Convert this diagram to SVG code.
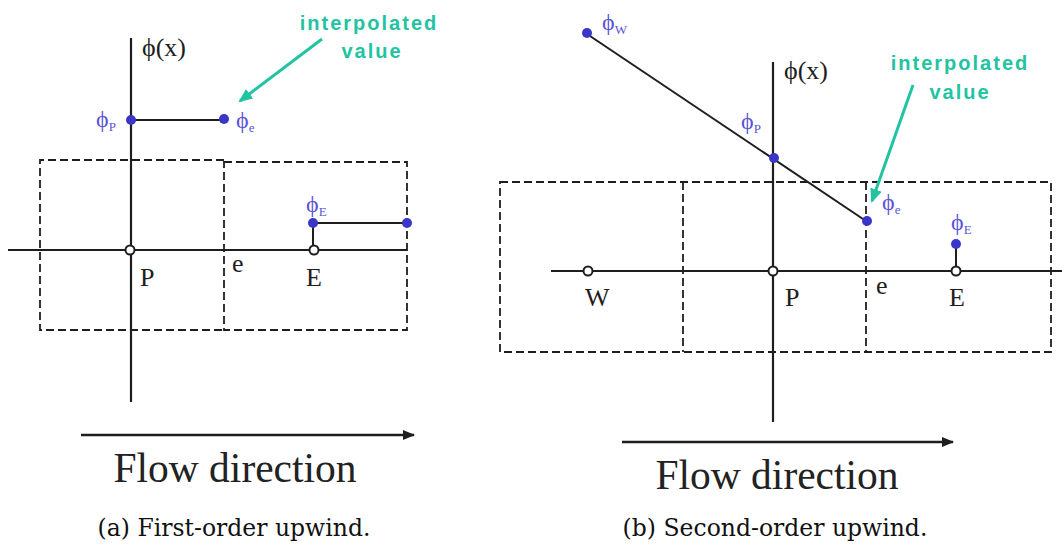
<svg xmlns="http://www.w3.org/2000/svg" width="1062" height="556" viewBox="0 0 1062 556">
<style>
.ax{stroke:#1e1e1e;stroke-width:2.2;fill:none}
.dash{stroke:#1e1e1e;stroke-width:1.8;fill:none;stroke-dasharray:8 4}
.ln{stroke:#1e1e1e;stroke-width:2;fill:none}
.teal{stroke:#22c3a3;stroke-width:3;fill:none}
.flow{stroke:#1e1e1e;stroke-width:2.6;fill:none}
.dot{fill:#3a36c8}
.node{fill:#ffffff;stroke:#1e1e1e;stroke-width:2}
.lbl{font-family:"Liberation Serif",serif;font-size:26px;fill:#1e1e1e}
.phi{font-family:"Liberation Serif",serif;font-size:24px;fill:#5a55d6}
.sub{font-size:13px}
.ip{font-family:"Liberation Sans",Arial,sans-serif;font-weight:bold;font-size:20px;fill:#22c3a3;letter-spacing:2px;text-anchor:middle}
.fd{font-family:"Liberation Serif",serif;font-size:41.5px;fill:#222;text-anchor:middle}
.cap{font-family:"DejaVu Serif",serif;font-size:23.5px;fill:#111;text-anchor:middle}
</style>
<defs>
<marker id="tealHead" viewBox="0 0 14 12" refX="12" refY="6" markerWidth="14" markerHeight="12" markerUnits="userSpaceOnUse" orient="auto">
<path d="M0,0 L14,6 L0,12 Z" fill="#22c3a3"/>
</marker>
<marker id="flowHead" viewBox="0 0 12 10" refX="11" refY="5" markerWidth="12" markerHeight="10" markerUnits="userSpaceOnUse" orient="auto">
<path d="M0,0 L12,5 L0,10 Z" fill="#1e1e1e"/>
</marker>
</defs>
<rect width="1062" height="556" fill="#ffffff"/>

<!-- ===== (a) First-order upwind ===== -->
<g id="a-cells">
<path class="dash" d="M224,160 H40 V330 H224"/>
<rect class="dash" x="224" y="162" width="183" height="168"/>
</g>
<g id="a-connectors">
<line class="ax" x1="131" y1="38" x2="131" y2="402"/>
<line class="ax" x1="8" y1="250" x2="407" y2="250"/>
<line class="ln" x1="131" y1="120" x2="224" y2="120"/>
<line class="ln" x1="313" y1="223" x2="407" y2="223"/>
<line class="ln" x1="313" y1="223" x2="313" y2="250"/>
<line class="teal" x1="322" y1="39" x2="240" y2="101" marker-end="url(#tealHead)"/>
<line class="flow" x1="81" y1="435" x2="414" y2="435" marker-end="url(#flowHead)"/>
</g>
<g id="a-node-P"><circle class="node" cx="130" cy="250" r="4.5"/><text class="lbl" x="140" y="286">P</text></g>
<g id="a-node-e"><text class="lbl" x="232" y="272">e</text></g>
<g id="a-node-E"><circle class="node" cx="314" cy="250" r="4.5"/><text class="lbl" x="306" y="286">E</text></g>
<g id="a-axis-label"><text class="lbl" x="142" y="56">ϕ(x)</text></g>
<g id="a-phiP"><circle class="dot" cx="131" cy="120" r="5"/><text class="phi" x="96" y="127">ϕ<tspan class="sub" dy="4">P</tspan></text></g>
<g id="a-phie"><circle class="dot" cx="224" cy="119" r="5"/><text class="phi" x="236" y="128">ϕ<tspan class="sub" dy="4">e</tspan></text></g>
<g id="a-phiE"><circle class="dot" cx="313" cy="223" r="5"/><circle class="dot" cx="407" cy="223" r="5"/><text class="phi" x="306" y="212">ϕ<tspan class="sub" dy="4">E</tspan></text></g>
<g id="a-interp"><text class="ip" x="369" y="30">interpolated</text><text class="ip" x="372" y="58">value</text></g>
<g id="a-flow"><text class="fd" x="235" y="482">Flow direction</text></g>
<g id="a-caption"><text class="cap" x="234" y="536">(a) First-order upwind.</text></g>

<!-- ===== (b) Second-order upwind ===== -->
<g id="b-cells">
<rect class="dash" x="500" y="182" width="551" height="170"/>
<line class="dash" x1="683" y1="182" x2="683" y2="352"/>
<line class="dash" x1="866" y1="182" x2="866" y2="352"/>
</g>
<g id="b-connectors">
<line class="ax" x1="773" y1="62" x2="773" y2="422"/>
<line class="ax" x1="551" y1="271" x2="1062" y2="271"/>
<line class="ln" x1="587" y1="34" x2="866" y2="221"/>
<line class="ln" x1="956" y1="244" x2="956" y2="271"/>
<line class="teal" x1="913" y1="85" x2="872" y2="201" marker-end="url(#tealHead)"/>
<line class="flow" x1="622" y1="442" x2="953" y2="442" marker-end="url(#flowHead)"/>
</g>
<g id="b-node-W"><circle class="node" cx="588" cy="271" r="4.5"/><text class="lbl" x="585" y="306">W</text></g>
<g id="b-node-P"><circle class="node" cx="773" cy="271" r="4.5"/><text class="lbl" x="785" y="306">P</text></g>
<g id="b-node-e"><text class="lbl" x="876" y="294">e</text></g>
<g id="b-node-E"><circle class="node" cx="956" cy="271" r="4.5"/><text class="lbl" x="949" y="306">E</text></g>
<g id="b-axis-label"><text class="lbl" x="784" y="79">ϕ(x)</text></g>
<g id="b-phiW"><circle class="dot" cx="587" cy="33" r="5"/><text class="phi" x="602" y="30">ϕ<tspan class="sub" dy="4">W</tspan></text></g>
<g id="b-phiP"><circle class="dot" cx="774" cy="158" r="5"/><text class="phi" x="741" y="129">ϕ<tspan class="sub" dy="4">P</tspan></text></g>
<g id="b-phie"><circle class="dot" cx="867" cy="221" r="5"/><text class="phi" x="882" y="210">ϕ<tspan class="sub" dy="4">e</tspan></text></g>
<g id="b-phiE"><circle class="dot" cx="956" cy="244" r="5"/><text class="phi" x="951" y="230">ϕ<tspan class="sub" dy="4">E</tspan></text></g>
<g id="b-interp"><text class="ip" x="960" y="70">interpolated</text><text class="ip" x="960" y="99">value</text></g>
<g id="b-flow"><text class="fd" x="777" y="489">Flow direction</text></g>
<g id="b-caption"><text class="cap" x="775" y="536">(b) Second-order upwind.</text></g>
</svg>
